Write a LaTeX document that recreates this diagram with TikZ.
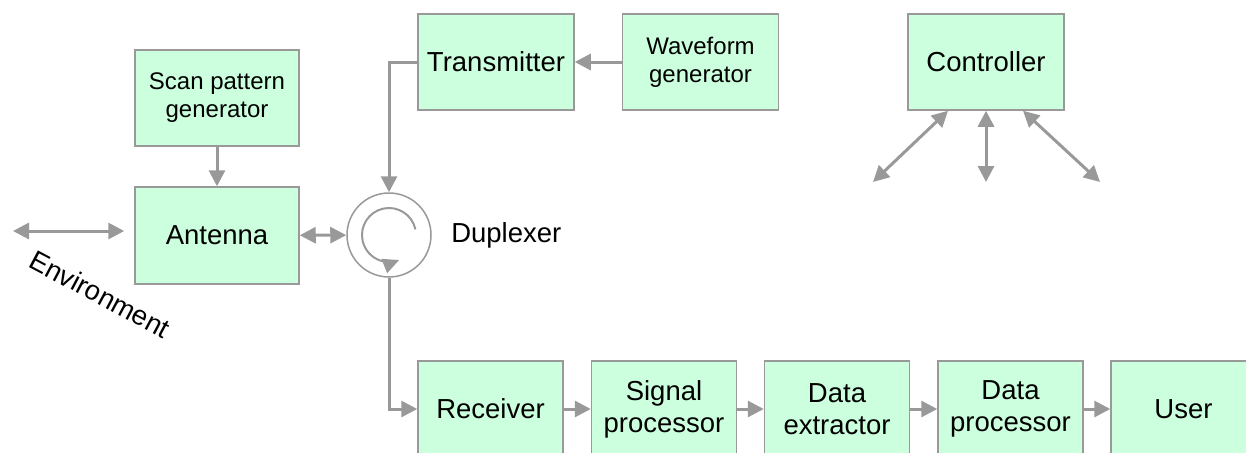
\documentclass[tikz,border=0pt]{standalone}
\usepackage{fontspec}
\setmainfont{Liberation Sans}
\usepackage{tikz}
\usetikzlibrary{arrows.meta,shapes,positioning}
\definecolor{boxgreen}{RGB}{204,255,221}
\definecolor{wiregray}{RGB}{153,153,153}
\tikzstyle{block}=[rectangle,draw=wiregray,line width=1.5pt,fill=boxgreen,minimum width=156pt,minimum height=96pt,inner sep=0pt,align=center,font=\fontsize{27.5}{32}\selectfont]
\tikzstyle{small}=[font=\fontsize{24}{28}\selectfont]
\tikzstyle{plain}=[font=\fontsize{27.5}{32}\selectfont]
\tikzstyle{edge}=[draw,line width=3pt,wiregray,->,>={Triangle[length=16pt,width=16pt]}]

\begin{document}
\begin{tikzpicture}[x=1pt,y=-1pt]
    \useasboundingbox (0,0) rectangle (1246,452);
    % upper blocks
    \node[block,small,minimum width=164pt] (scan) at (217,98) {Scan pattern\\generator};
    \node[block,minimum width=164pt,minimum height=97pt] (antenna) at (217,235.5) {Antenna};
    \node[block] (tx) at (496,62) {Transmitter};
    \node[block,small] (wave) at (700.5,62) {Waveform\\generator};
    \node[block] (ctrl) at (986,62) {Controller};
    % duplexer and labels
    \node[circle,draw=wiregray,line width=1.5pt,minimum size=84pt,inner sep=0pt] (dup) at (389,235) {};
    \node[plain,right=16pt of dup] (duptext) {Duplexer};
    \node[plain,rotate=-28] (env) at (100,294) {Environment};
    % receiving chain
    \foreach \pos/\name/\txt in {490.5/rx/Receiver, 664/sp/{Signal\\processor},
                                 837/de/{Data\\extractor}, 1010.5/dp/{Data\\processor},
                                 1183.5/user/User}
        \node[block,minimum width=145pt] (\name) at (\pos,409) {\txt};
    % free ends
    \coordinate (envtip) at (13,231);
    \coordinate (c1) at (873,182);
    \coordinate (c2) at (986,182);
    \coordinate (c3) at (1100,182);
    % connect blocks
    \foreach \source/\dest in {rx/sp, sp/de, de/dp, dp/user, wave/tx, scan/antenna}
        \path[edge] (\source) -- (\dest);
    \path[edge] (tx.west) -| (dup.north);
    \path[edge] (dup.south) |- (rx.west);
    \path[edge,<->] (antenna) -- (dup);
    \path[edge,<->,shorten >=10pt] (envtip) -- (envtip -| antenna.west);
    \path[edge,line width=2pt,>={Triangle[length=16pt,width=15pt]}] ([shift={(12:27pt)}]dup.center) arc[start angle=12,end angle=292,radius=27pt];
    % controller links
    \path[edge,<->] ([xshift=-38pt]ctrl.south) -- (c1);
    \path[edge,<->] (ctrl.south) -- (c2);
    \path[edge,<->] ([xshift=37pt]ctrl.south) -- (c3);
\end{tikzpicture}
\end{document}
